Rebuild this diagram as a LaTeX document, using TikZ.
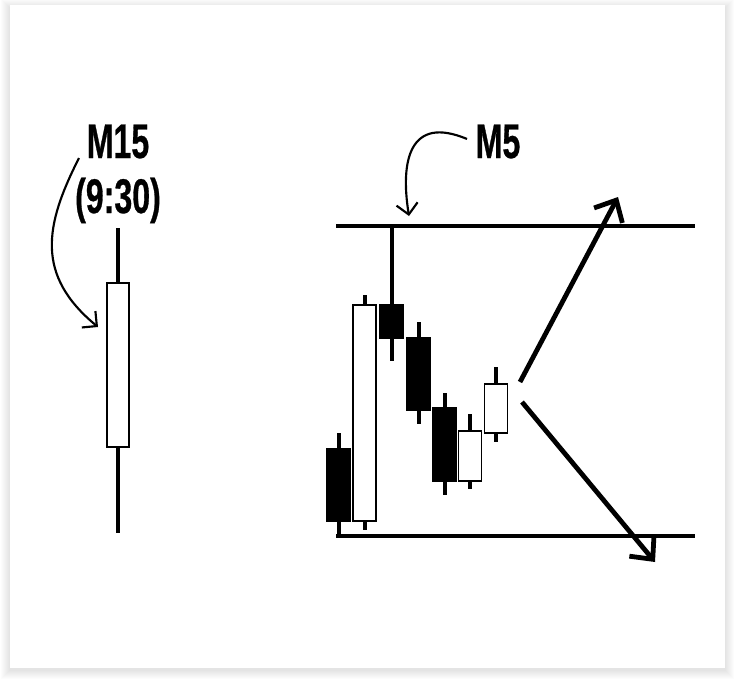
\documentclass[tikz,border=0pt]{standalone}
\usepackage{fontspec}
\usetikzlibrary{arrows.meta}
\newfontfamily\tagfont{Liberation Sans Bold}[FakeStretch=0.66, FakeBold=0.6]

\begin{document}
\begin{tikzpicture}[x=0.75pt, y=-0.75pt,
  tag/.style={font=\tagfont\fontsize{36.5}{40}\selectfont, inner sep=0pt, anchor=base},
  wick/.style={line width=3pt},
  body/.style={draw=black, line width=1.1pt},
  level/.style={line width=3.6pt},
  move/.style={line width=3.6pt, -{Straight Barb[length=13pt, width=24pt]}},
  note/.style={line width=1.6pt, -{Straight Barb[length=8pt, width=16pt]}}]
\useasboundingbox (0,0) rectangle (735,682);
% Card with a soft shadow
\foreach \d in {1,...,9}
  \fill[black, opacity=0.01] (10-\d,5-\d+3) rectangle (725+\d,668+\d+2);
\fill[white] (10,5) rectangle (725,668);
% Labels
\node[tag] (m15) at (118,158) {M15};
\node[tag] (time) at (118,213) {(9:30)};
\node[tag] (m5) at (498,158) {M5};
\coordinate (m15from) at (79,158);
\coordinate (m15to) at (98,327);
\coordinate (m5from) at (467,139);
\coordinate (m5to) at (409,216);
% The M15 candle
\draw[wick] (118,228) -- (118,533);
\filldraw[body, fill=white] (107,283) rectangle (129,447);
% The range of the M15 candle on M5
\coordinate (hiL) at (336,226);
\coordinate (hiR) at (695,226);
\coordinate (loL) at (336,536);
\coordinate (loR) at (695,536);
\draw[level] (hiL) -- (hiR);
\draw[level] (loL) -- (loR);
% The M5 candles: centre, wick top, body top, body bottom, wick bottom, fill
\foreach \cx/\wt/\bt/\bb/\wb/\col in {338.5/433/449/521/536/black, 364.5/295/305/521/530/white,
    391.5/226/305/338/361/black, 418.5/322/338/410/424/black, 444.5/393/408/481/495/black,
    470/414/431/481/489/white, 496/367/384/433/442/white}{
  \draw[wick] (\cx,\wt) -- (\cx,\wb);
  \filldraw[body, fill=\col] (\cx-11.5,\bt) rectangle (\cx+11.5,\bb);
}
% Breakout up or down
\coordinate (upfrom) at (520,382);
\coordinate (upto) at (618,197);
\coordinate (downfrom) at (522,402);
\coordinate (downto) at (655,562);
\draw[move] (upfrom) -- (upto);
\draw[move] (downfrom) -- (downto);
% Pointers from the labels
\draw[note] (m15from) .. controls (45,225) and (35,275) .. (m15to);
\draw[note] (m5from) .. controls (410,115) and (400,160) .. (m5to);
\end{tikzpicture}
\end{document}
